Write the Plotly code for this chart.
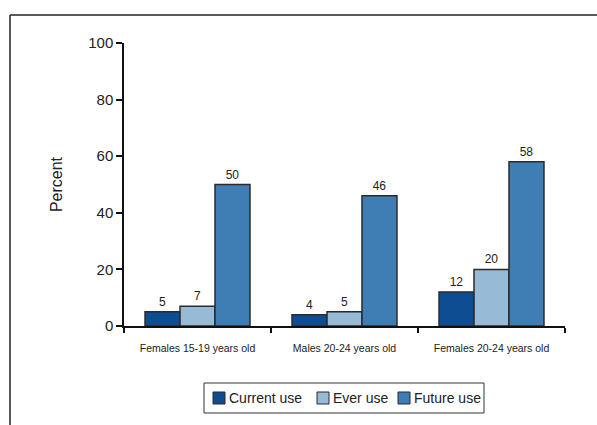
import plotly.graph_objects as go

# Survey groups and percentages for each type of use
groups = ["Females 15-19 years old", "Males 20-24 years old", "Females 20-24 years old"]
current_use = [5, 4, 12]
ever_use = [7, 5, 20]
future_use = [50, 46, 58]

series_names = ["Current use", "Ever use", "Future use"]
series_colors = ["#0E4D91", "#97BAD6", "#3F7DB5"]
y_ticks = [0, 20, 40, 60, 80, 100]

FONT = "Liberation Sans, Arial, sans-serif"
W, H = 597, 425
ML, MR, MT, MB = 124, 32, 43, 99
PW, PH = W - ML - MR, H - MT - MB


def px(x):
    """pixel column -> paper x"""
    return (x - ML) / PW


def py(y):
    """pixel row -> paper y"""
    return (H - MB - y) / PH


fig = go.Figure()
for name, vals, col in zip(series_names, [current_use, ever_use, future_use], series_colors):
    fig.add_trace(go.Bar(
        name=name,
        x=groups,
        y=vals,
        marker=dict(color=col, line=dict(color="#2b2b2b", width=1.5)),
        text=[str(v) for v in vals],
        textposition="outside",
        textfont=dict(family=FONT, size=12, color="#222222"),
        cliponaxis=False,
        showlegend=False,
    ))

shapes = [
    # outer frame around the chart (runs off the right and bottom edges)
    dict(type="line", xref="paper", yref="paper",
         x0=px(10), x1=px(W + 5), y0=py(15), y1=py(15),
         line=dict(color="#222222", width=1.5)),
    dict(type="line", xref="paper", yref="paper",
         x0=px(10), x1=px(10), y0=py(15), y1=py(H + 5),
         line=dict(color="#222222", width=1.5)),
    # legend box
    dict(type="rect", xref="paper", yref="paper",
         x0=px(204), x1=px(484), y0=py(383), y1=py(413),
         line=dict(color="#333333", width=1), fillcolor="white"),
]
annotations = []

# legend entries: swatch followed by label
swatch_x = [213, 317, 398]
for sx, name, col in zip(swatch_x, series_names, series_colors):
    shapes.append(dict(type="rect", xref="paper", yref="paper",
                       x0=px(sx), x1=px(sx + 12), y0=py(392), y1=py(404),
                       line=dict(color="#2b2b2b", width=1), fillcolor=col))
    annotations.append(dict(xref="paper", yref="paper", x=px(sx + 14), y=py(398),
                            xanchor="left", yanchor="middle", showarrow=False,
                            text=name, font=dict(family=FONT, size=14, color="#222222")))

fig.update_layout(
    width=W,
    height=H,
    margin=dict(l=ML, r=MR, t=MT, b=MB),
    paper_bgcolor="white",
    plot_bgcolor="white",
    barmode="group",
    bargap=0.286,
    bargroupgap=0,
    font=dict(family=FONT, color="#222222"),
    showlegend=False,
    xaxis=dict(
        showline=True, linecolor="#111111", linewidth=1.5,
        ticks="outside", tickson="boundaries", ticklen=5,
        tickcolor="#111111", tickwidth=1.5,
        ticklabelstandoff=12,
        tickfont=dict(family=FONT, size=10.5, color="#222222"),
        showgrid=False, zeroline=False,
    ),
    yaxis=dict(
        range=[0, 100],
        tickvals=y_ticks,
        showline=True, linecolor="#111111", linewidth=1.5,
        ticks="outside", ticklen=6, tickcolor="#111111", tickwidth=1.5,
        tickfont=dict(family=FONT, size=15, color="#222222"),
        title=dict(text="Percent", font=dict(family=FONT, size=16, color="#222222"), standoff=22),
        showgrid=False, zeroline=False,
    ),
    shapes=shapes,
    annotations=annotations,
)

fig.write_html("out.html")
